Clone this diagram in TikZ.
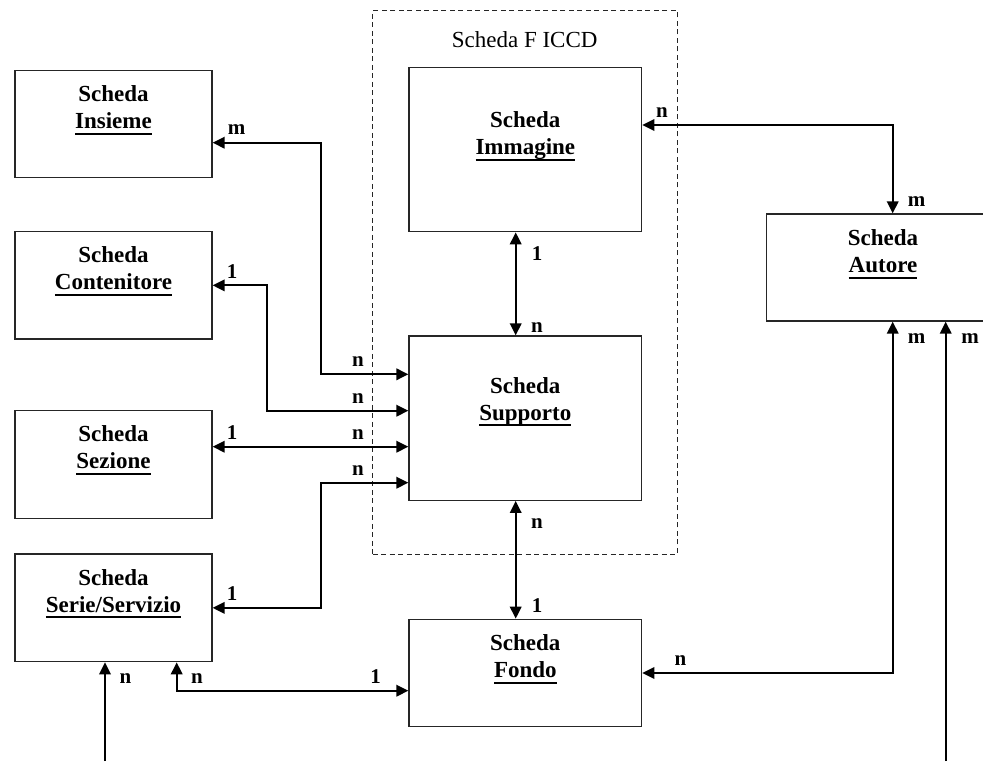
\documentclass[tikz,border=0pt]{standalone}
\usepackage{fontspec}
\setmainfont{Liberation Serif}
\usetikzlibrary{arrows.meta}
\newcommand\ulx[1]{\setbox0=\hbox{#1}\leavevmode\rlap{\rule[-6.2pt]{\wd0}{1.9pt}}\box0}
\begin{document}
\begin{tikzpicture}[x=1pt,y=-1pt,
  box/.style={draw=black!85, line width=1.3pt, inner sep=0pt, minimum width=#1},
  box/.default=197pt,
  boxtxt/.style={anchor=north, inner sep=0pt, align=center, font=\fontsize{23}{27}\selectfont\bfseries},
  card/.style={inner sep=0pt, font=\fontsize{21}{24}\selectfont\bfseries},
  conn/.style={line width=2pt, -{Triangle[length=12pt,width=11.5pt]}},
  dbl/.style={line width=2pt, {Triangle[length=12pt,width=11.5pt]}-{Triangle[length=12pt,width=11.5pt]}},
  grpbox/.style={draw=black!85, line width=1.4pt, dash pattern=on 5pt off 3.5pt, inner sep=0pt}
]
\clip (0,0) rectangle (983,761);
% group
\node[grpbox, minimum width=304.6pt, minimum height=543.6pt] (grp) at (525,282.5) {};
\node[anchor=base, inner sep=0pt, font=\fontsize{23}{27}\selectfont] (grptitle) at (524.7,47) {Scheda F ICCD};
% boxes
\node[box, minimum height=107pt] (ins) at (113.5,124.2) {};
\node[box, minimum height=107.3pt] (con) at (113.5,285.35) {};
\node[box, minimum height=107.6pt] (sez) at (113.5,464.5) {};
\node[box, minimum height=107.7pt] (ser) at (113.5,607.85) {};
\node[box=232.7pt, minimum height=164.4pt] (img) at (525.35,149.5) {};
\node[box=232.7pt, minimum height=164.3pt] (sup) at (525.35,418.15) {};
\node[box=232.7pt, minimum height=107.4pt] (fon) at (525.35,673) {};
\node[box=232.6pt, minimum height=107pt] (aut) at (883,267.5) {};
% box texts
\node[boxtxt] (tins) at ([yshift=-15.5pt]ins.north) {Scheda\\\ulx{Insieme}};
\node[boxtxt] (tcon) at ([yshift=-15.5pt]con.north) {Scheda\\\ulx{Contenitore}};
\node[boxtxt] (tsez) at ([yshift=-15.5pt]sez.north) {Scheda\\\ulx{Sezione}};
\node[boxtxt] (tser) at ([yshift=-15.5pt]ser.north) {Scheda\\\ulx{Serie/Servizio}};
\node[boxtxt] (timg) at ([yshift=-44.5pt]img.north) {Scheda\\\ulx{Immagine}};
\node[boxtxt] (tsup) at ([yshift=-41.5pt]sup.north) {Scheda\\\ulx{Supporto}};
\node[boxtxt] (tfon) at ([yshift=-16pt]fon.north) {Scheda\\\ulx{Fondo}};
\node[boxtxt] (taut) at ([yshift=-16pt]aut.north) {Scheda\\\ulx{Autore}};
% connectors
\draw[dbl] ([yshift=-18.5pt]ins.east) -- ++(108,0) |- ([yshift=43.85pt]sup.west);
\draw[dbl] (con.east) -- ++(54,0) |- ([yshift=7.45pt]sup.west);
\coordinate (p3) at ([yshift=17.8pt]sez.east);
\draw[dbl] (p3) -- (p3 -| sup.west);
\draw[dbl] (ser.east) -- ++(108,0) |- ([yshift=-64.55pt]sup.west);
\coordinate (p5) at ([xshift=63.2pt]ser.south);
\draw[dbl] (p5) |- ([yshift=-17.7pt]fon.west);
\coordinate (b1) at (105,761);
\draw[conn] (b1) -- (b1 |- ser.south);
\draw[dbl] ([xshift=-9.65pt]img.south) -- ([xshift=-9.65pt]sup.north);
\draw[dbl] ([xshift=-9.65pt]sup.south) -- ([xshift=-9.65pt]fon.north);
\draw[dbl] ([yshift=24.5pt]img.east) -| ([xshift=9.7pt]aut.north);
\draw[dbl] ([xshift=9.7pt]aut.south) |- (fon.east);
\coordinate (b2) at (945.7,761);
\draw[conn] (b2) -- (b2 |- aut.south);
% cardinalities
\node[card] (c1) at (236.5,130) {m};
\node[card] (c2) at (358,362) {n};
\node[card] (c3) at (232,272) {1};
\node[card] (c4) at (358,398.5) {n};
\node[card] (c5) at (232,433) {1};
\node[card] (c6) at (358,434.5) {n};
\node[card] (c7) at (232,594) {1};
\node[card] (c8) at (358,471) {n};
\node[card] (c9) at (125.5,678.5) {n};
\node[card] (c10) at (197,678.5) {n};
\node[card] (c11) at (375.5,677) {1};
\node[card] (c12) at (537,254) {1};
\node[card] (c13) at (537,327.5) {n};
\node[card] (c14) at (537,524) {n};
\node[card] (c15) at (537,606) {1};
\node[card] (c16) at (662,112.5) {n};
\node[card] (c17) at (916.5,202) {m};
\node[card] (c18) at (680.5,661) {n};
\node[card] (c19) at (916.5,339) {m};
\node[card] (c20) at (970,339) {m};
\end{tikzpicture}
\end{document}
